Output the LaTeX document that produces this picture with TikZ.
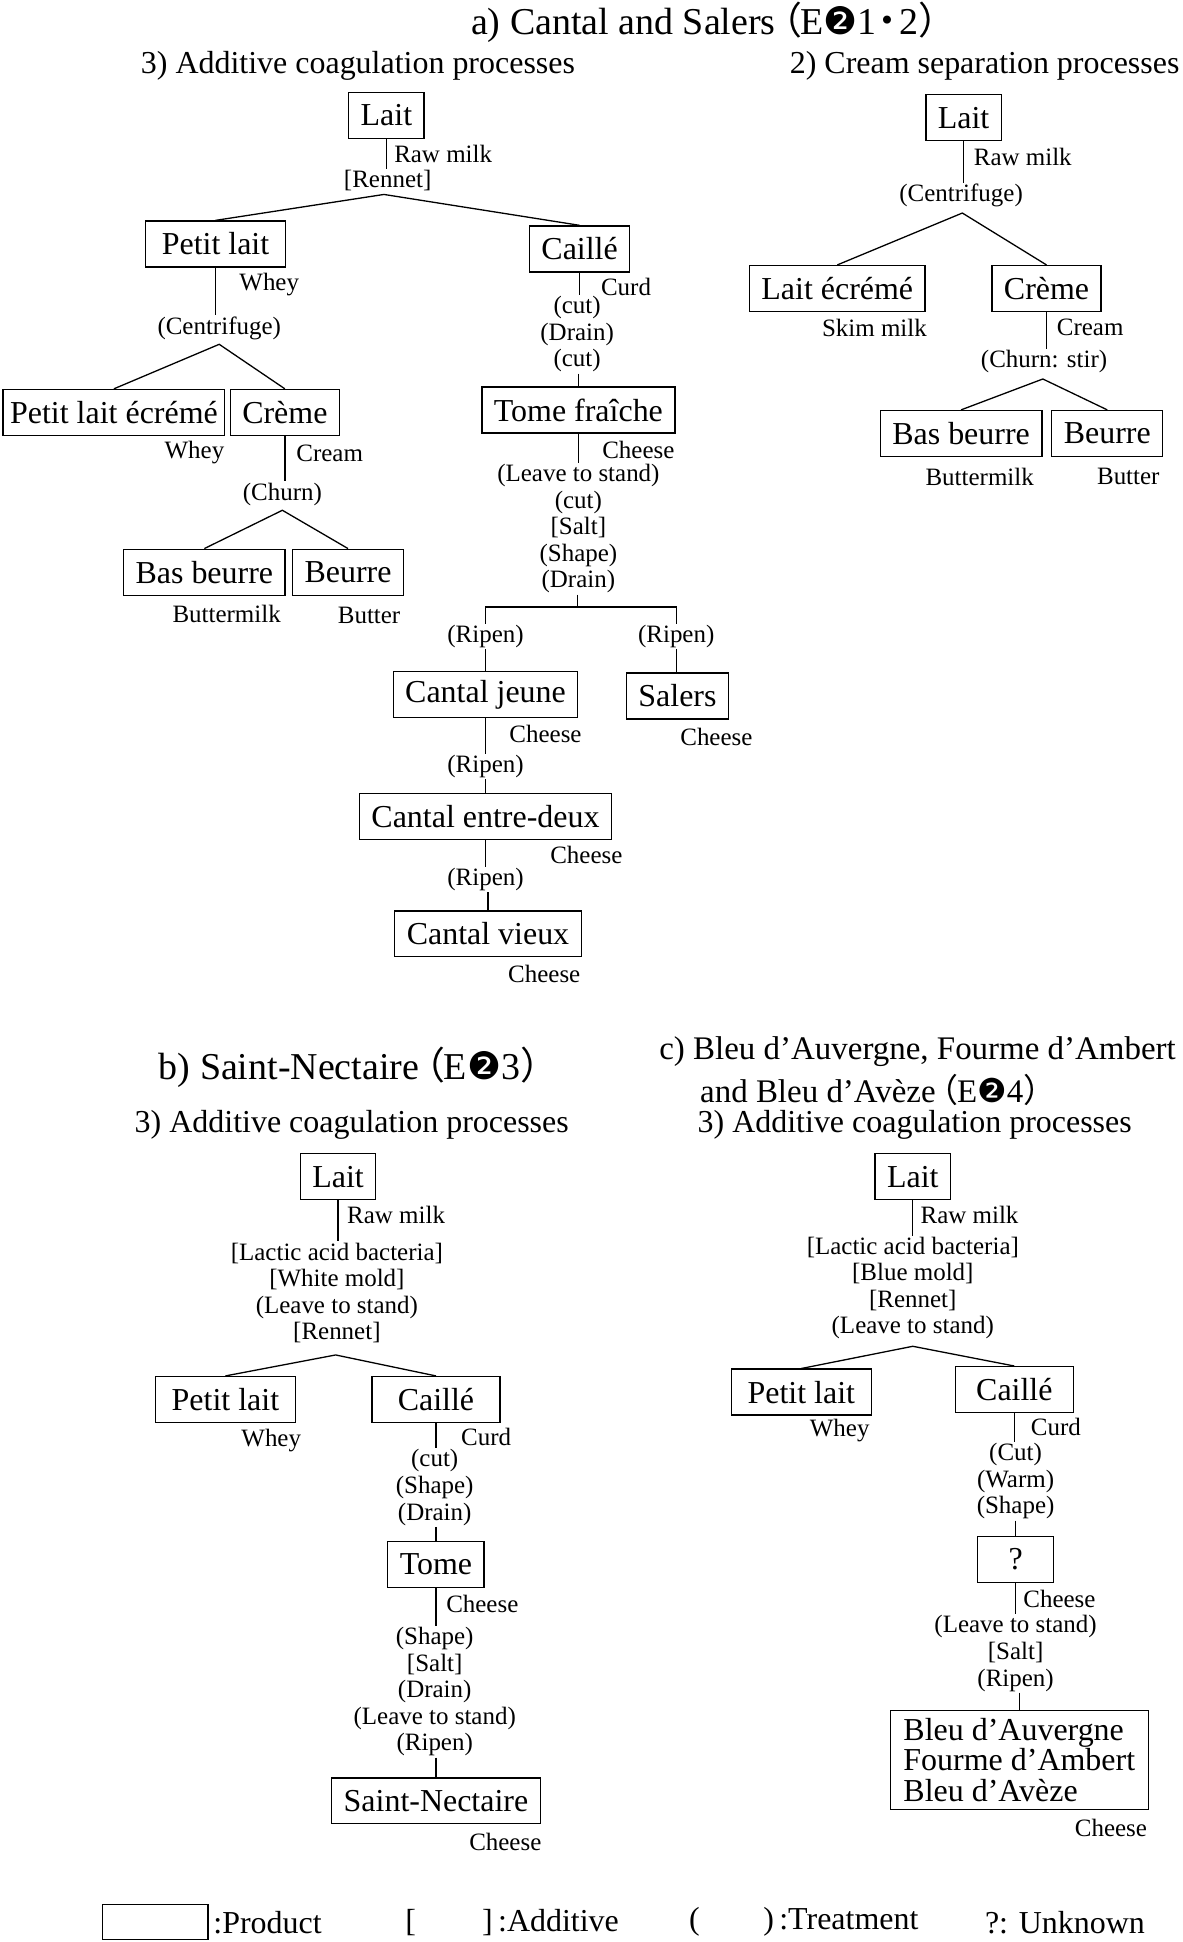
\documentclass[tikz,border=0pt]{standalone}
\usepackage{fontspec}
\setmainfont{Liberation Serif}
\newfontfamily\cjkfont{Noto Sans CJK JP}
\newfontfamily\dingfont{DejaVu Sans}
\newcommand{\fwopen}{\hspace{-0.3em}{\cjkfont （}\hspace{-0.05em}}
\newcommand{\fwclose}{{\cjkfont ）}}
\newcommand{\kdot}{\hspace{-0.2em}{\cjkfont ・}\hspace{-0.2em}}
\newcommand{\ctwo}{{\dingfont ❷}}
\tikzset{
  product/.style={draw, line width=0.65pt, font=\fontsize{16}{18}\selectfont, inner xsep=6pt, inner ysep=0pt, minimum height=23pt},
  note/.style={font=\fontsize{12.5}{13.3}\selectfont, inner sep=0.5pt, align=center},
  tag/.style={font=\fontsize{12.5}{13.3}\selectfont, inner sep=0pt, anchor=west},
  link/.style={line width=0.65pt},
  headline/.style={font=\fontsize{19}{21}\selectfont, inner sep=0pt, anchor=west},
  subhead/.style={font=\fontsize{16}{18}\selectfont, inner sep=0pt},
  legtext/.style={font=\fontsize{16}{18}\selectfont, inner sep=0pt, anchor=west},
}
\begin{document}
\begin{tikzpicture}[x=0.62pt,y=-0.62pt]
    \useasboundingbox (0,0) rectangle (955,1568);

    % a) Cantal and Salers
    \node[headline] (atitle) at (380,18) {a) Cantal and Salers\fwopen E\ctwo 1\kdot 2\fwclose};
    \node[subhead] (a3head) at (289,53) {3) Additive coagulation processes};
    \node[subhead] (a2head) at (795,53) {2) Cream separation processes};

    % a) 3) Additive coagulation: milk to curd and whey
    \node[product] (a3lait) at (312,93) {Lait};
    \node[note] (a3ren) at (313,146) {[Rennet]};
    \draw[link] (a3lait.south) -- (a3lait.south |- a3ren.north);
    \node[tag] (a3raw) at (318,124) {Raw milk};
    \coordinate (a3ap) at (310,157);
    \node[product, minimum width=70pt] (a3pl) at (174,197) {Petit lait};
    \node[product] (a3ca) at (468,201) {Caillé};
    \draw[link] (a3pl.north) -- (a3ap) -- (a3ca.north);

    % whey side
    \node[note] (a3cen) at (177,265) {(Centrifuge)};
    \draw[link] (a3pl.south) -- (a3pl.south |- a3cen.north);
    \node[tag] (a3whey) at (193,230) {Whey};
    \coordinate (a3ap2) at (177,278);
    \node[product, inner xsep=3.5pt] (a3ple) at (92,333) {Petit lait écrémé};
    \node[product] (a3cr) at (230,333) {Crème};
    \draw[link] (a3ple.north) -- (a3ap2) -- (a3cr.north);
    \node[note] (a3whey2) at (157,365) {Whey};
    \node[note] (a3ch) at (228,399) {(Churn)};
    \draw[link] (a3cr.south) -- (a3cr.south |- a3ch.north);
    \node[tag] (a3cream) at (239,366) {Cream};
    \coordinate (a3ap3) at (228,412);
    \node[product] (a3bb) at (165,462) {Bas beurre};
    \node[product] (a3be) at (281,462) {Beurre};
    \draw[link] (a3bb.north) -- (a3ap3) -- (a3be.north);
    \node[note] (a3bm) at (183,496) {Buttermilk};
    \node[note] (a3bt) at (298,497) {Butter};

    % curd side
    \node[note] (a3s1) at (466,270) {(cut)\\(Drain)\\(cut)};
    \draw[link] (a3ca.south) -- (a3ca.south |- a3s1.north);
    \node[tag] (a3curd) at (485,232) {Curd};
    \node[product] (a3tf) at (467,331) {Tome fraîche};
    \draw[link] (a3tf.north |- a3s1.south) -- (a3tf.north);
    \node[note] (a3s2) at (467,427) {(Leave to stand)\\(cut)\\{}[Salt]\\(Shape)\\(Drain)};
    \draw[link] (a3tf.south) -- (a3tf.south |- a3s2.north);
    \node[tag] (a3ch1) at (486,363) {Cheese};
    \coordinate (a3jn) at (466,490);
    \draw[link] (a3s2.south -| a3jn) -- (a3jn);
    \node[note] (a3r1) at (392,514) {(Ripen)};
    \node[note] (a3r2) at (546,514) {(Ripen)};
    \draw[link] (a3r1.north) -- (a3r1.north |- a3jn) -- (a3r2.north |- a3jn) -- (a3r2.north);

    % Cantal line
    \node[product] (a3cj) at (392,561) {Cantal jeune};
    \draw[link] (a3r1.south) -- (a3cj.north);
    \node[tag] (a3ch2) at (411,593) {Cheese};
    \node[note] (a3r3) at (392,619) {(Ripen)};
    \draw[link] (a3cj.south) -- (a3cj.south |- a3r3.north);
    \node[product] (a3ced) at (392,659) {Cantal entre-deux};
    \draw[link] (a3ced.north |- a3r3.south) -- (a3ced.north);
    \node[tag] (a3ch3) at (444,690) {Cheese};
    \node[note] (a3r4) at (392,710) {(Ripen)};
    \draw[link] (a3ced.south) -- (a3ced.south |- a3r4.north);
    \node[product] (a3cv) at (394,754) {Cantal vieux};
    \draw[link] (a3cv.north |- a3r4.south) -- (a3cv.north);
    \node[tag] (a3ch4) at (410,786) {Cheese};

    % Salers
    \node[product] (a3sa) at (547,562) {Salers};
    \draw[link] (a3r2.south) -- (a3r2.south |- a3sa.north);
    \node[tag] (a3ch5) at (549,595) {Cheese};

    % a) 2) Cream separation
    \node[product] (a2lait) at (778,95) {Lait};
    \node[note] (a2cen) at (776,158) {(Centrifuge)};
    \draw[link] (a2lait.south) -- (a2lait.south |- a2cen.north);
    \node[tag] (a2raw) at (786,127) {Raw milk};
    \coordinate (a2ap) at (777,172);
    \node[product] (a2le) at (676,233) {Lait écrémé};
    \node[product] (a2cr) at (845,233) {Crème};
    \draw[link] (a2le.north) -- (a2ap) -- (a2cr.north);
    \node[note] (a2skim) at (706,265) {Skim milk};
    \node[note] (a2ch) at (843,292) {(Churn: stir)};
    \draw[link] (a2cr.south) -- (a2cr.south |- a2ch.north);
    \node[tag] (a2cream) at (853,264) {Cream};
    \coordinate (a2ap2) at (842,306);
    \node[product] (a2bb) at (776,350) {Bas beurre};
    \node[product] (a2be) at (894,350) {Beurre};
    \draw[link] (a2bb.north) -- (a2ap2) -- (a2be.north);
    \node[note] (a2bm) at (791,385) {Buttermilk};
    \node[note] (a2bt) at (911,385) {Butter};

    % b) Saint-Nectaire
    \node[headline] (btitle) at (128,862) {b) Saint-Nectaire\fwopen E\ctwo 3\fwclose};
    \node[subhead] (bhead) at (284,908) {3) Additive coagulation processes};
    \node[product] (blait) at (273,950) {Lait};
    \node[note] (bs0) at (272,1044) {[Lactic acid bacteria]\\{}[White mold]\\(Leave to stand)\\{}[Rennet]};
    \draw[link] (blait.south) -- (blait.south |- bs0.north);
    \node[tag] (braw) at (280,981) {Raw milk};
    \coordinate (bap) at (271,1094);
    \node[product, minimum width=70pt] (bpl) at (182,1130) {Petit lait};
    \node[product, minimum width=64pt] (bca) at (352,1130) {Caillé};
    \draw[link] (bpl.north) -- (bap) -- (bca.north);
    \node[note] (bwhey) at (219,1163) {Whey};
    \node[note] (bs1) at (351,1201) {(cut)\\(Shape)\\(Drain)};
    \draw[link] (bca.south) -- (bca.south |- bs1.north);
    \node[tag] (bcurd) at (372,1160) {Curd};
    \node[product] (btome) at (352,1263) {Tome};
    \draw[link] (btome.north |- bs1.south) -- (btome.north);
    \node[note] (bs2) at (351,1366) {(Shape)\\{}[Salt]\\(Drain)\\(Leave to stand)\\(Ripen)};
    \draw[link] (btome.south) -- (btome.south |- bs2.north);
    \node[tag] (bch1) at (360,1295) {Cheese};
    \node[product] (bsn) at (352,1454) {Saint-Nectaire};
    \draw[link] (bsn.north |- bs2.south) -- (bsn.north);
    \node[note] (bch2) at (408,1487) {Cheese};

    % c) Bleu d'Auvergne, Fourme d'Ambert, Bleu d'Aveze
    \node[headline, font=\fontsize{16.5}{18}\selectfont] (ctitle1) at (532,849) {c) Bleu d’Auvergne, Fourme d’Ambert};
    \node[headline, font=\fontsize{16.5}{18}\selectfont] (ctitle2) at (565,880) {and Bleu d’Avèze\fwopen E\ctwo 4\fwclose};
    \node[subhead, anchor=west] (chead) at (563,908) {3) Additive coagulation processes};
    \node[product] (clait) at (737,950) {Lait};
    \node[note] (cs0) at (737,1040) {[Lactic acid bacteria]\\{}[Blue mold]\\{}[Rennet]\\(Leave to stand)};
    \draw[link] (clait.south) -- (clait.south |- cs0.north);
    \node[tag] (craw) at (743,981) {Raw milk};
    \coordinate (cap) at (737,1087);
    \node[product, minimum width=70pt] (cpl) at (647,1124) {Petit lait};
    \node[product, minimum width=59pt] (cca) at (819,1122) {Caillé};
    \draw[link] (cpl.north) -- (cap) -- (cca.north);
    \node[note] (cwhey) at (678,1155) {Whey};
    \node[note] (cs1) at (820,1196) {(Cut)\\(Warm)\\(Shape)};
    \draw[link] (cca.south) -- (cca.south |- cs1.north);
    \node[tag] (ccurd) at (832,1152) {Curd};
    \node[product, minimum width=38pt] (cq) at (820,1259) {?};
    \draw[link] (cq.north |- cs1.south) -- (cq.north);
    \node[note] (cs2) at (820,1335) {(Leave to stand)\\{}[Salt]\\(Ripen)};
    \draw[link] (cq.south) -- (cq.south |- cs2.north);
    \node[tag] (cch1) at (826,1291) {Cheese};
    \node[product, align=left, font=\fontsize{16}{15.2}\selectfont, inner ysep=4pt, minimum width=129pt] (cbleu) at (823,1421) {Bleu d’Auvergne\\Fourme d’Ambert\\Bleu d’Avèze};
    \draw[link] (cbleu.north |- cs2.south) -- (cbleu.north);
    \node[note] (cch2) at (897,1476) {Cheese};

    % Legend
    \node[draw, line width=0.65pt, minimum width=52.7pt, minimum height=17.4pt, inner sep=0pt] (legbox) at (125.5,1552) {};
    \node[legtext] (legprod) at (172,1552) {:Product};
    \node[legtext] (legbra) at (327,1552) {[};
    \node[legtext] (legadd) at (389,1552) {]\,:Additive};
    \node[legtext] (legpar) at (556,1552) {(};
    \node[legtext] (legtrt) at (616,1552) {)\,:Treatment};
    \node[legtext] (legunk) at (795,1552) {?: Unknown};
\end{tikzpicture}
\end{document}
